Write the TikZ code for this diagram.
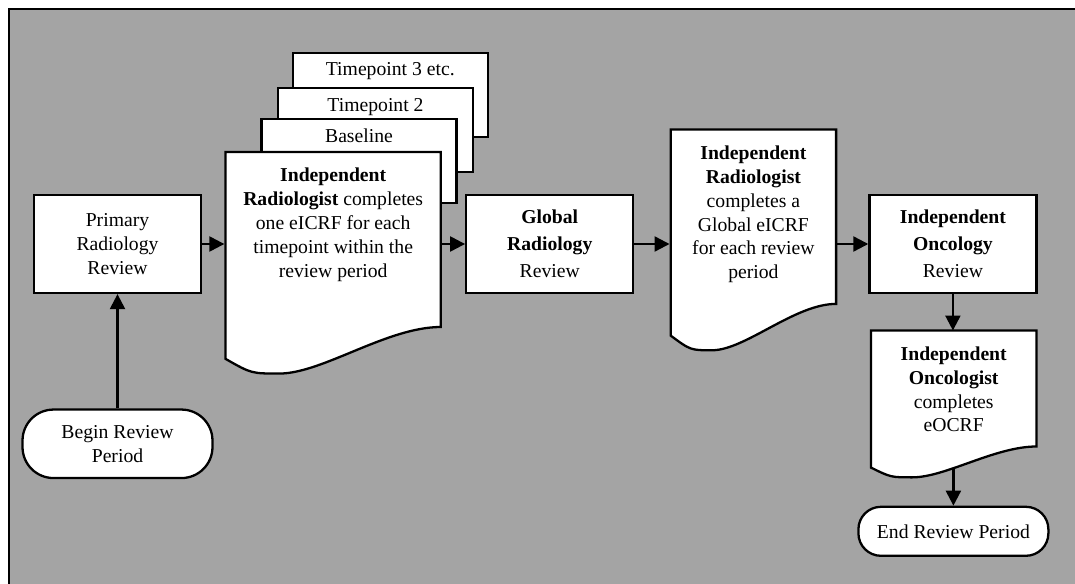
\documentclass[tikz,border=0pt]{standalone}
\usepackage{fontspec}
\setmainfont{Liberation Serif}
\usetikzlibrary{arrows.meta}

\definecolor{panelgray}{RGB}{164,164,164}

\tikzset{
  box/.style={draw, fill=white, align=center, minimum width=3.34cm, minimum height=1.96cm, inner sep=2pt},
  boldbox/.style={box, font=\fontsize{11.2}{15.4}\selectfont},
  page/.style={draw, fill=white, anchor=north, minimum width=3.9cm, inner ysep=0pt, text height=0.46cm, text depth=1.22cm},
  doc/.style={anchor=north, align=center, inner xsep=2pt, inner ysep=8.5pt},
  docline/.style={draw, fill=white},
  term/.style={draw, fill=white, align=center, rounded corners=0.45cm, minimum width=3.8cm},
  flow/.style={-{Triangle[length=8.5pt,width=8.5pt]}},
}

\begin{document}
\begin{tikzpicture}[x=0.02cm, y=-0.02cm, line width=1.3pt, font=\fontsize{11.2}{13.6}\selectfont]
	\useasboundingbox (0,0) rectangle (1075,584);
	\draw[fill=panelgray] (9,9) rectangle (1100,600);

	% stacked timepoint pages
	\node[page] (TP3) at (390.3,51.7) {Timepoint 3 etc.};
	\node[page] (TP2) at (375.5,87.1) {Timepoint 2};
	\node[page] (BL) at (359,118.1) {Baseline};

	% document outlines (left/top/right/right end)
	\foreach \xl/\yt/\xr/\yb in {225.5/152/440.8/327, 670.7/129.6/836.1/303.9, 871/330.5/1036.4/446.5}{
		\pgfmathsetmacro\docw{\xr-\xl}
		\pgfmathsetmacro\doch{\yb-\yt}
		\draw[docline] (\xl,\yt) -- (\xr,\yt) -- (\xr,\yb)
			.. controls ({\xr-0.25*\docw},\yb) and ({\xl+0.45*\docw},{\yb+0.266*\doch}) .. ({\xl+0.25*\docw},{\yb+0.266*\doch})
			.. controls ({\xl+0.12*\docw},{\yb+0.266*\doch}) .. (\xl,{\yb+0.182*\doch}) -- cycle;
	}

	\node[box] (PRR) at (117.5,244) {Primary\\Radiology\\Review};
	\node[doc, minimum width=4.31cm] (IRC) at (333.2,152) {\textbf{Independent}\\\textbf{Radiologist} completes\\one eICRF for each\\timepoint within the\\review period};
	\node[boldbox] (GRR) at (549.7,244) {\textbf{Global}\\\textbf{Radiology}\\Review};
	\node[doc, minimum width=3.31cm] (IRG) at (753.4,129.6) {\textbf{Independent}\\\textbf{Radiologist}\\completes a\\Global eICRF\\for each review\\period};
	\node[boldbox] (IOR) at (952.9,244) {\textbf{Independent}\\\textbf{Oncology}\\Review};
	\node[doc, minimum width=3.31cm] (IOC) at (953.7,330.5) {\textbf{Independent}\\\textbf{Oncologist}\\completes\\eOCRF};

	\node[term, minimum height=1.37cm, rounded corners=0.62cm] (BRP) at (117.5,443.8) {Begin Review\\Period};
	\node[term, minimum height=0.98cm] (ERP) at (953.4,531.3) {End Review Period};
	\coordinate (IOCb) at (953.4,468);

	\draw[flow] (BRP) -- (PRR);
	\draw[flow] (PRR) -- (PRR -| IRC.west);
	\draw[flow] (GRR -| IRC.east) -- (GRR);
	\draw[flow] (GRR) -- (GRR -| IRG.west);
	\draw[flow] (IOR -| IRG.east) -- (IOR);
	\draw[flow] (IOR) -- (IOR |- IOC.north);
	\draw[flow] (IOCb) -- (ERP);

\end{tikzpicture}
\end{document}
